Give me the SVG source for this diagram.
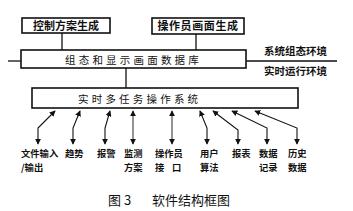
<svg xmlns="http://www.w3.org/2000/svg" width="353" height="211" viewBox="0 0 353 211">
<defs>
<marker id="ah" viewBox="0 0 8 8" refX="7" refY="4" markerWidth="6" markerHeight="6" orient="auto-start-reverse" markerUnits="userSpaceOnUse">
<path d="M0,0 L8,4 L0,8 Z" fill="#111"/>
</marker>
<style>
.box{fill:#fff;stroke:#111;stroke-width:1.6}
.ln{fill:none;stroke:#111;stroke-width:1.3}
.ar{fill:none;stroke:#111;stroke-width:1.1;marker-start:url(#ah);marker-end:url(#ah)}
.t{font-family:"Noto Sans CJK SC","Noto Sans CJK TC",sans-serif;fill:#111}
.b{font-size:11px;font-weight:bold}
.s{font-size:10.5px;letter-spacing:3.2px}
.l{font-size:10.5px;font-weight:bold}
.lb{font-size:9.3px;font-weight:bold}
</style>
</defs>
<rect width="353" height="211" fill="#fff"/>
<g id="connectors">
<line class="ln" x1="62" y1="33" x2="62" y2="50"/>
<line class="ln" x1="196" y1="34" x2="196" y2="50"/>
<line class="ln" x1="8" y1="61" x2="21" y2="61"/>
<line class="ln" x1="246" y1="61" x2="337" y2="61"/>
<line class="ln" x1="126" y1="68" x2="126" y2="88"/>
<polyline class="ar" points="55,111 38,128 38,144"/>
<polyline class="ar" points="80,111 73,128 73,144"/>
<polyline class="ar" points="110,111 105,128 105,144"/>
<polyline class="ar" points="133,111 133,128 133,144" style="stroke-width:0.9"/>
<polyline class="ar" points="172,111 172,128 172,144" style="stroke-width:0.9"/>
<polyline class="ar" points="200,111 207,128 207,144"/>
<polyline class="ar" points="213,111 238,130 238,144"/>
<polyline class="ar" points="232,111 267,128 267,144"/>
<polyline class="ar" points="255,111 297,128 297,144"/>
</g>
<g id="n_ctrl">
<rect class="box" x="22" y="18" width="88" height="15"/>
<text class="t b" x="66" y="29.5" text-anchor="middle">控制方案生成</text>
</g>
<g id="n_op">
<rect class="box" x="152" y="18" width="92" height="16"/>
<text class="t b" x="198" y="30" text-anchor="middle" style="letter-spacing:0.6px">操作员画面生成</text>
</g>
<g id="n_db">
<rect class="box" x="21" y="50" width="225" height="18"/>
<text class="t s" x="65" y="63.5">组态和显示画面数据库</text>
</g>
<g id="n_rtos">
<rect class="box" x="32" y="88" width="266" height="20"/>
<text class="t s" x="78" y="102.5">实时多任务操作系统</text>
</g>
<g id="env">
<text class="t l" x="264" y="55">系统组态环境</text>
<text class="t l" x="264" y="75">实时运行环境</text>
</g>
<g id="labels" class="t lb">
<text x="21" y="157">文件输入</text>
<text x="21" y="171">/输出</text>
<text x="65" y="157">趋势</text>
<text x="97" y="157">报警</text>
<text x="124" y="157">监测</text>
<text x="124" y="171">方案</text>
<text x="155" y="157">操作员</text>
<text x="155" y="171">接</text>
<text x="172" y="171">口</text>
<text x="200" y="157">用户</text>
<text x="200" y="171">算法</text>
<text x="232" y="157">报表</text>
<text x="259" y="157">数据</text>
<text x="259" y="171">记录</text>
<text x="288" y="157">历史</text>
<text x="288" y="171">数据</text>
</g>
<g id="caption" class="t" style="font-size:13px">
<text x="108" y="205">图 3</text>
<text x="152" y="205">软件结构框图</text>
</g>
</svg>
